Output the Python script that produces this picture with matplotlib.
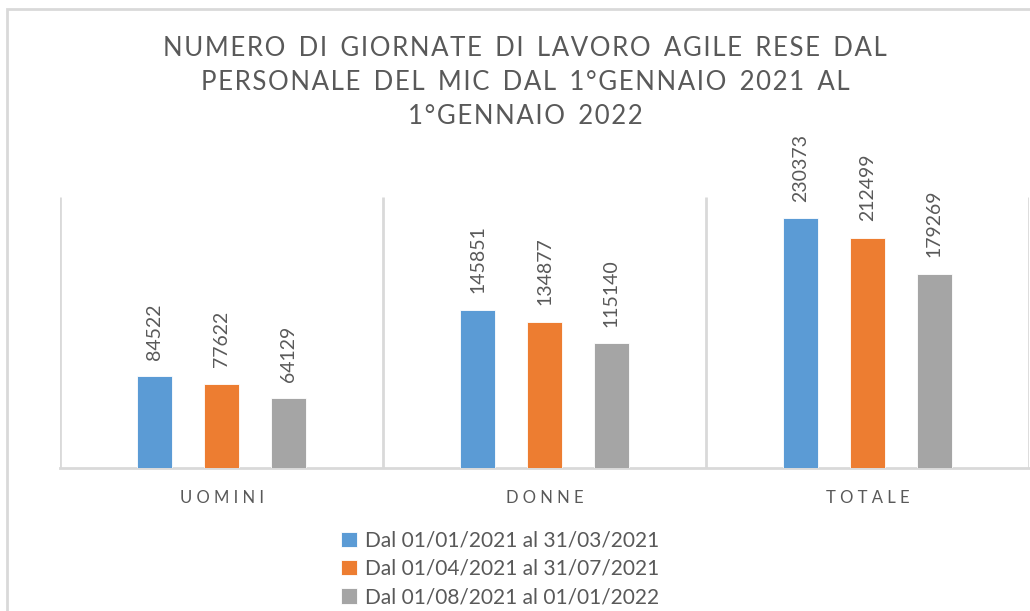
import matplotlib.pyplot as plt
import matplotlib as mpl
from matplotlib.patches import Rectangle

plt.rcParams['font.family'] = ['Lato', 'DejaVu Sans']

categories = ['UOMINI', 'DONNE', 'TOTALE']
periods = ['Dal 01/01/2021 al 31/03/2021',
           'Dal 01/04/2021 al 31/07/2021',
           'Dal 01/08/2021 al 01/01/2022']
values = [
    [84522, 145851, 230373],
    [77622, 134877, 212499],
    [64129, 115140, 179269],
]
colors = ['#5B9BD5', '#ED7D31', '#A5A5A5']
title_lines = ['NUMERO DI GIORNATE DI LAVORO AGILE RESE DAL',
               'PERSONALE DEL MIC DAL 1°GENNAIO 2021 AL',
               '1°GENNAIO 2022']

TXT = '#595959'
GRID = '#d9d9d9'


def spaced(s, gap='\u2009'):
    # rough letter spacing like the office chart
    return '  '.join(gap.join(w) for w in s.split(' '))


fig = plt.figure(figsize=(10.30, 6.11), dpi=100)
ax = fig.add_axes([60 / 1030, 1 - 468 / 611, 969 / 1030, 271 / 611])

x = range(len(categories))
w = 0.108
offs = [-0.207, 0.0, 0.207]
for i in range(3):
    xs = [k + offs[i] for k in x]
    bars = ax.bar(xs, values[i], width=w, color=colors[i], label=periods[i],
                  edgecolor='white', linewidth=0.6, zorder=3)
    for b, v in zip(bars, values[i]):
        ax.annotate(str(v), (b.get_x() + b.get_width() / 2, v),
                    xytext=(0, 12), textcoords='offset points',
                    rotation=90, ha='center', va='bottom',
                    fontsize=14, color=TXT)

ax.set_xlim(-0.5, 2.5)
ax.set_ylim(0, 250000)
ax.vlines([-0.5, 0.5, 1.5, 2.5], 0, 250000, color=GRID, lw=2, zorder=1)
for s in ['top', 'right', 'left']:
    ax.spines[s].set_visible(False)
ax.spines['bottom'].set_color(GRID)
ax.spines['bottom'].set_linewidth(2)
ax.set_yticks([])
ax.set_xticks(list(x))
ax.set_xticklabels([spaced(c, ' ') for c in categories], fontsize=12, color=TXT)
ax.tick_params(axis='x', length=0, pad=16)

fig.text(0.51, 1 - 36 / 611, '\n'.join(spaced(t, '\u200a') for t in title_lines),
         ha='center', va='top', fontsize=18.5, color=TXT, linespacing=1.45)

leg = ax.legend(loc='upper center', bbox_to_anchor=(0.486, 1 - 516 / 611),
                bbox_transform=fig.transFigure, ncol=1, frameon=False,
                fontsize=15, handlelength=0.75, handleheight=0.75,
                handletextpad=0.4, labelspacing=0.4, labelcolor=TXT,
                borderpad=0.2)

fig.add_artist(Rectangle((7 / 1030, -0.1), 2, (611 - 9) / 611 + 0.1,
                         transform=fig.transFigure, fill=False,
                         ec=GRID, lw=2))

fig.savefig('out.png', dpi=100, facecolor='white')
